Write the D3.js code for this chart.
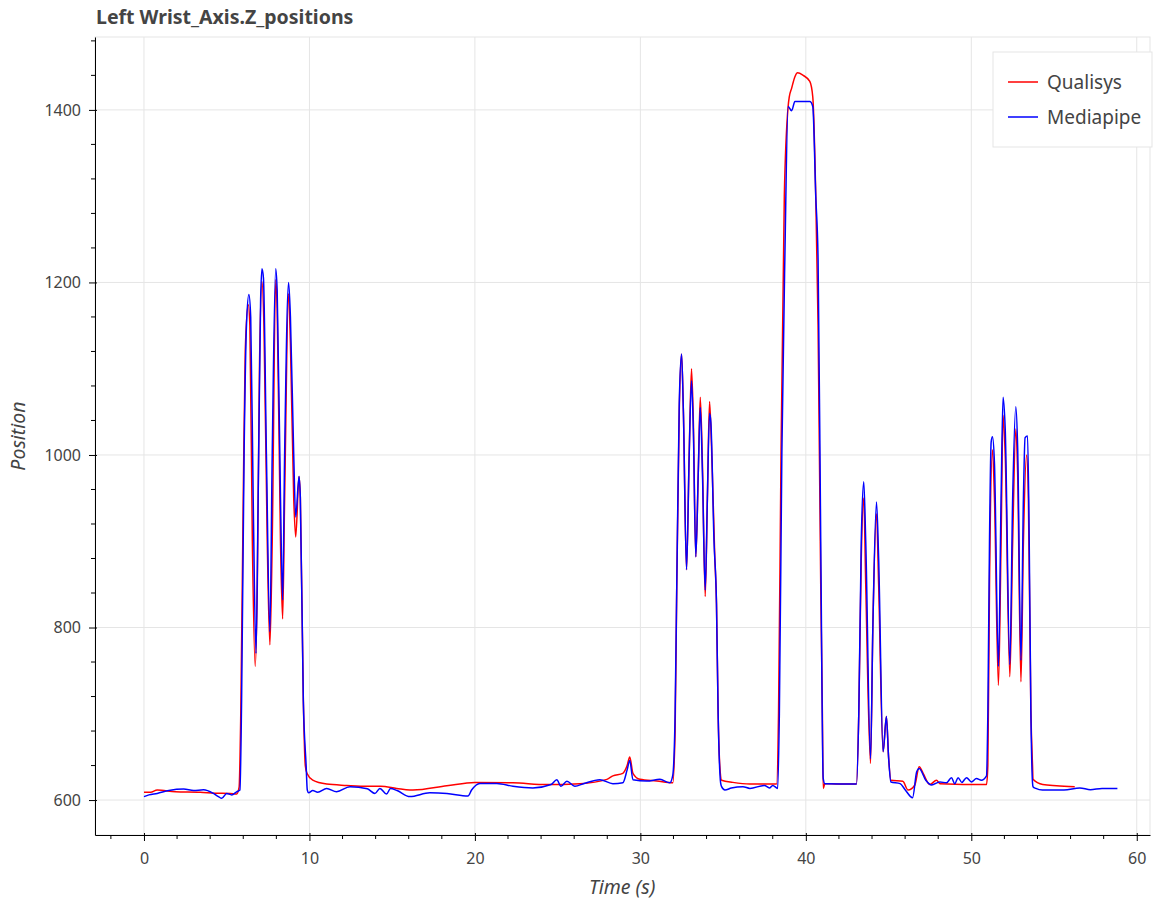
<!DOCTYPE html>
<html>
<head>
<meta charset="utf-8">
<script src="https://cdn.jsdelivr.net/npm/d3@7"></script>
<style>
  body { margin: 0; background: #fff; }
  text { font-family: "Noto Sans", sans-serif; }
</style>
</head>
<body>
<svg id="drawing_region"></svg>
<script>
// series: [time (s), position]
const qualisys = [
  [0, 609], [0.4, 609], [0.8, 611.6], [1.9, 609.6], [3.4, 609], [4.3, 608], [5.2, 607.7], [5.6, 607], [5.75, 615],
  [5.85, 700], [6.0, 950], [6.12, 1120], [6.3, 1174], [6.4, 1150], [6.55, 900], [6.72, 755], [6.85, 850], [6.98, 1100],
  [7.13, 1201], [7.25, 1150], [7.45, 900], [7.61, 780], [7.75, 900], [7.96, 1203], [8.05, 1170], [8.25, 900], [8.38, 810],
  [8.5, 950], [8.74, 1187], [8.85, 1130], [9.05, 950], [9.17, 905], [9.37, 975], [9.45, 950], [9.63, 716], [9.75, 640],
  [9.85, 631], [10.2, 623], [11.04, 618.5], [12.25, 617], [13.5, 616], [14.3, 616], [15.27, 613.5], [16.07, 611.6],
  [16.25, 611.6], [18.3, 616.6], [20.0, 620.5], [22.3, 620], [24.35, 618], [26.34, 619], [27.98, 624], [28.34, 628],
  [28.94, 631], [29.2, 640], [29.36, 650], [29.55, 631], [29.97, 624], [31.0, 622], [31.96, 620], [32.1, 680], [32.2, 850],
  [32.35, 1050], [32.49, 1117], [32.6, 1050], [32.79, 867], [32.95, 1000], [33.09, 1100], [33.2, 1040], [33.35, 882],
  [33.5, 980], [33.62, 1067], [33.75, 990], [33.92, 836], [34.05, 950], [34.18, 1062], [34.3, 1010], [34.5, 880],
  [34.6, 828], [34.7, 700], [34.8, 640], [34.91, 623], [35.59, 620.5], [36.62, 618.6], [38.23, 618.6], [38.35, 700],
  [38.5, 1000], [38.7, 1300], [38.93, 1404], [39.0, 1415], [39.14, 1425], [39.34, 1438.5], [39.5, 1443], [39.84, 1440],
  [40.24, 1433], [40.42, 1415], [40.6, 1300], [40.74, 1150], [40.9, 850], [41.0, 700], [41.05, 613.5], [41.15, 619],
  [42.0, 618.6], [43.06, 618.6], [43.2, 700], [43.35, 880], [43.5, 950], [43.62, 850], [43.91, 642.5], [44.05, 800],
  [44.27, 932], [44.4, 850], [44.67, 656], [44.87, 697], [45.0, 650], [45.14, 623], [45.86, 621.7], [46.18, 611.6],
  [46.59, 617.5], [46.85, 638.6], [47.09, 631], [47.49, 618], [47.9, 623], [48.1, 619], [50.92, 618], [51.0, 640],
  [51.1, 850], [51.28, 1006], [51.4, 950], [51.64, 733], [51.8, 900], [51.92, 1046], [52.05, 1000], [52.33, 743],
  [52.5, 900], [52.69, 1030], [52.8, 980], [53.0, 737], [53.15, 900], [53.34, 1000], [53.45, 950], [53.6, 704],
  [53.7, 640], [53.73, 624], [54.32, 618], [55.15, 616.6], [56.25, 615.5]
];

const mediapipe = [
  [0, 604], [0.3, 606], [0.8, 607.7], [1.5, 611], [2.4, 612.7], [3.0, 611], [3.6, 612], [4.2, 607.7], [4.5, 604],
  [4.7, 602], [5.0, 607.7], [5.3, 606], [5.6, 609.6], [5.8, 611.6], [5.9, 716], [6.05, 1000], [6.2, 1153], [6.34, 1186],
  [6.45, 1160], [6.6, 950], [6.77, 770], [6.9, 950], [7.05, 1180], [7.13, 1216], [7.22, 1205], [7.4, 1000], [7.61, 795],
  [7.75, 1000], [7.96, 1216], [8.05, 1190], [8.25, 950], [8.38, 832], [8.5, 1000], [8.74, 1200], [8.85, 1160],
  [9.05, 1000], [9.17, 928], [9.37, 975], [9.45, 950], [9.63, 716], [9.8, 640], [9.87, 611.6], [9.95, 608.5],
  [10.2, 611], [10.5, 609], [11.04, 613.5], [11.64, 609.7], [12.45, 615.5], [13.5, 613], [13.96, 607.7], [14.26, 613.5],
  [14.66, 607], [14.9, 613.5], [15.3, 611], [16.07, 604], [17.28, 608.5], [18.31, 607.7], [19.58, 604.6], [19.8, 611.6],
  [20.3, 619.3], [21.33, 619.3], [22.3, 616], [23.5, 614], [24.6, 618], [24.95, 623.6], [25.2, 616], [25.56, 621.7],
  [26.04, 616], [26.6, 619.3], [27.55, 623.6], [28.34, 619], [28.94, 620], [29.2, 635], [29.36, 646], [29.55, 623.6],
  [30.39, 622], [31.18, 624], [31.78, 620], [31.96, 629], [32.1, 700], [32.2, 850], [32.35, 1060], [32.49, 1117],
  [32.6, 1050], [32.79, 867], [32.95, 1000], [33.09, 1086], [33.2, 1030], [33.35, 882], [33.5, 980], [33.62, 1055],
  [33.75, 980], [33.92, 843.5], [34.05, 950], [34.18, 1048], [34.26, 1038], [34.45, 900], [34.6, 828], [34.7, 700],
  [34.85, 620], [34.91, 615.5], [35.11, 611.6], [35.5, 614], [36.2, 615.5], [36.62, 613.5], [37.5, 617], [37.8, 614],
  [38.0, 617], [38.3, 613.5], [38.4, 700], [38.55, 1000], [38.73, 1226], [38.93, 1404], [39.14, 1399], [39.34, 1409.6],
  [40.24, 1409.6], [40.42, 1404], [40.6, 1300], [40.74, 1226], [40.9, 900], [41.05, 625], [41.15, 619], [43.06, 618.6],
  [43.2, 700], [43.35, 900], [43.5, 969], [43.62, 900], [43.91, 648], [44.05, 800], [44.27, 945.6], [44.4, 880],
  [44.67, 656], [44.87, 697], [45.0, 650], [45.14, 621], [45.7, 619], [46.0, 612], [46.45, 602.7], [46.7, 632.8],
  [46.85, 636.7], [47.25, 623], [47.6, 617.5], [48.1, 621], [48.5, 620], [48.8, 625.9], [49.0, 619], [49.2, 626],
  [49.43, 620.5], [49.71, 626], [50.01, 621], [50.31, 625], [50.61, 623], [50.92, 628], [51.0, 700], [51.1, 900],
  [51.2, 1015], [51.28, 1021], [51.4, 990], [51.64, 755], [51.8, 950], [51.92, 1067], [52.05, 1030], [52.33, 757],
  [52.5, 950], [52.69, 1056], [52.8, 1010], [53.0, 762], [53.15, 950], [53.25, 1020], [53.4, 1022], [53.5, 900],
  [53.6, 704], [53.7, 620], [53.73, 615.5], [53.9, 613.5], [54.3, 611.6], [55.6, 611.6], [56.56, 614], [57.2, 612],
  [57.9, 613.5], [58.83, 613.5]
];

const seriesNames = ['Qualisys', 'Mediapipe'];
const seriesColors = ['red', 'blue'];
const xTicks = [0, 10, 20, 30, 40, 50, 60];
const yTicks = [600, 800, 1000, 1200, 1400];

const width = 1166, height = 902;
const margin = {top: 37, right: 16, bottom: 67, left: 95};
const inner_width = width - margin.left - margin.right;
const inner_height = height - margin.top - margin.bottom;

const svg = d3.select('#drawing_region')
    .attr('width', width)
    .attr('height', height);

const chart = svg.append('g')
    .attr('transform', `translate(${margin.left}, ${margin.top})`);

const xscale = d3.scaleLinear()
    .domain([-2.96, 60.8])
    .range([0, inner_width]);

const yscale = d3.scaleLinear()
    .domain([559.5, 1484.5])
    .range([inner_height, 0]);

// grid
chart.append('g').selectAll('line.gx')
    .data(xTicks).enter().append('line')
    .attr('x1', d => xscale(d)).attr('x2', d => xscale(d))
    .attr('y1', 0).attr('y2', inner_height)
    .attr('stroke', '#e5e5e5');

chart.append('g').selectAll('line.gy')
    .data(yTicks).enter().append('line')
    .attr('x1', 0).attr('x2', inner_width)
    .attr('y1', d => yscale(d)).attr('y2', d => yscale(d))
    .attr('stroke', '#e5e5e5');

chart.append('rect')
    .attr('width', inner_width).attr('height', inner_height)
    .attr('fill', 'none').attr('stroke', '#e5e5e5');

// lines
const line = d3.line()
    .x(d => xscale(d[0]))
    .y(d => yscale(d[1]))
    .curve(d3.curveMonotoneX);

[qualisys, mediapipe].forEach((s, i) => {
    chart.append('path')
        .datum(s)
        .attr('d', line)
        .attr('fill', 'none')
        .attr('stroke', seriesColors[i])
        .attr('stroke-width', 1.5)
        .attr('stroke-linejoin', 'round');
});

// axes
const xminor = d3.range(-2, 61, 2).filter(d => d % 10 !== 0);
const yminor = d3.range(600, 1481, 40).filter(d => d % 200 !== 0);

const xaxis_group = chart.append('g')
    .attr('transform', `translate(0, ${inner_height})`);
xaxis_group.call(d3.axisBottom(xscale).tickValues(xTicks).tickSizeOuter(0).tickSizeInner(6).tickPadding(12));
xaxis_group.selectAll('.minor').data(xminor).enter().append('line')
    .attr('x1', d => xscale(d)).attr('x2', d => xscale(d))
    .attr('y1', 0).attr('y2', 4).attr('stroke', '#000');

const yaxis_group = chart.append('g');
yaxis_group.call(d3.axisLeft(yscale).tickValues(yTicks).tickFormat(d3.format('d'))
    .tickSizeOuter(0).tickSizeInner(6).tickPadding(8));
yaxis_group.selectAll('.minor').data(yminor).enter().append('line')
    .attr('y1', d => yscale(d)).attr('y2', d => yscale(d))
    .attr('x1', 0).attr('x2', -4).attr('stroke', '#000');

[xaxis_group, yaxis_group].forEach(g => {
    g.select('.domain').attr('stroke', '#000');
    g.selectAll('.tick line').attr('stroke', '#000');
    g.selectAll('.tick text')
        .attr('fill', '#444')
        .style('font-family', '"Noto Sans", sans-serif')
        .style('font-size', '16px');
});
// major ticks stick in a little too
xaxis_group.selectAll('.tick line').attr('y1', -2);
yaxis_group.selectAll('.tick line').attr('x1', 2);

// axis labels
svg.append('text')
    .attr('x', margin.left + xscale(28.9))
    .attr('y', 894)
    .attr('text-anchor', 'middle')
    .attr('fill', '#444')
    .style('font-size', '19.5px')
    .style('font-style', 'italic')
    .text('Time (s)');

svg.append('text')
    .attr('transform', `translate(25, ${margin.top + yscale(1022)}) rotate(-90)`)
    .attr('text-anchor', 'middle')
    .attr('fill', '#444')
    .style('font-size', '19.5px')
    .style('font-style', 'italic')
    .text('Position');

// title
svg.append('text')
    .attr('x', 96)
    .attr('y', 24)
    .attr('fill', '#444')
    .style('font-size', '19.5px')
    .style('font-weight', 'bold')
    .text('Left Wrist_Axis.Z_positions');

// legend
const legend = svg.append('g').attr('transform', 'translate(993, 52)');
legend.append('rect')
    .attr('width', 159).attr('height', 95)
    .attr('fill', '#fff').attr('stroke', '#e5e5e5');
seriesNames.forEach((name, i) => {
    const y = 30 + i * 35;
    legend.append('line')
        .attr('x1', 15).attr('x2', 45)
        .attr('y1', y).attr('y2', y)
        .attr('stroke', seriesColors[i]).attr('stroke-width', 1.5);
    legend.append('text')
        .attr('x', 54).attr('y', y)
        .attr('dy', '0.35em')
        .attr('fill', '#444')
        .style('font-size', '19px')
        .text(name);
});
</script>
</body>
</html>
